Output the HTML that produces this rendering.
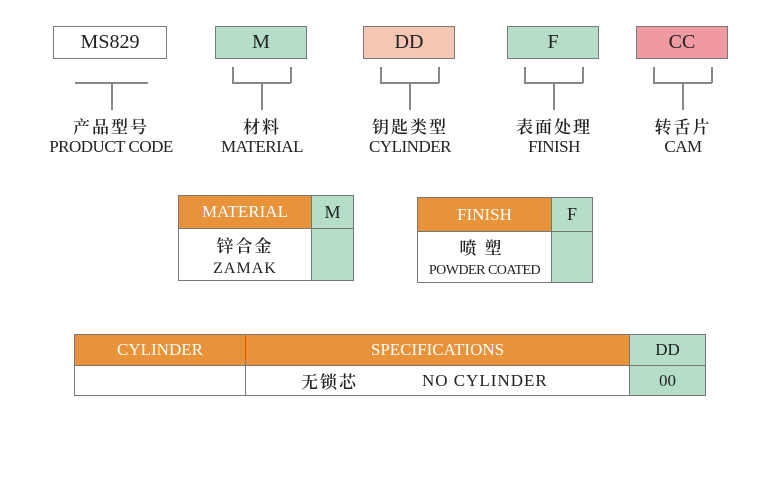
<!DOCTYPE html>
<html><head><meta charset="utf-8"><style>
body{margin:0;width:778px;height:500px;background:#fff;position:relative;overflow:hidden;font-family:"Liberation Serif","Noto Serif CJK SC",serif;color:#222}
div{position:absolute;box-sizing:border-box}
.b{border:1.5px solid #7a7a7a;text-align:center;font-size:20px;line-height:30px}
.ln{background:#888}
.lab{text-align:center;font-size:17px;line-height:19px;width:160px;letter-spacing:-0.5px}
.cj{font-family:"Noto Serif CJK SC","Noto Sans CJK SC",serif;letter-spacing:2px;font-weight:600}
.o{background:#e8923a;color:#fff}
.g{background:#b4dec8}
.c{border:1px solid #777;text-align:center}
</style></head><body>
<div class="b" style="left:53px;top:26px;width:114px;height:33px">MS829</div>
<div class="b g" style="left:215px;top:26px;width:92px;height:33px">M</div>
<div class="b" style="left:363px;top:26px;width:92px;height:33px;background:#f5c6b4">DD</div>
<div class="b g" style="left:507px;top:26px;width:92px;height:33px">F</div>
<div class="b" style="left:636px;top:26px;width:92px;height:33px;background:#ef9aa0">CC</div>

<div class="ln" style="left:75px;top:82px;width:73px;height:1.5px"></div>
<div class="ln" style="left:111px;top:82px;width:1.5px;height:28px"></div>

<div class="ln" style="left:232px;top:67px;width:1.5px;height:16px"></div>
<div class="ln" style="left:290px;top:67px;width:1.5px;height:16px"></div>
<div class="ln" style="left:232px;top:82px;width:59px;height:1.5px"></div>
<div class="ln" style="left:261px;top:82px;width:1.5px;height:28px"></div>

<div class="ln" style="left:380px;top:67px;width:1.5px;height:16px"></div>
<div class="ln" style="left:438px;top:67px;width:1.5px;height:16px"></div>
<div class="ln" style="left:380px;top:82px;width:59px;height:1.5px"></div>
<div class="ln" style="left:409px;top:82px;width:1.5px;height:28px"></div>

<div class="ln" style="left:524px;top:67px;width:1.5px;height:16px"></div>
<div class="ln" style="left:582px;top:67px;width:1.5px;height:16px"></div>
<div class="ln" style="left:524px;top:82px;width:59px;height:1.5px"></div>
<div class="ln" style="left:553px;top:82px;width:1.5px;height:28px"></div>

<div class="ln" style="left:653px;top:67px;width:1.5px;height:16px"></div>
<div class="ln" style="left:711px;top:67px;width:1.5px;height:16px"></div>
<div class="ln" style="left:653px;top:82px;width:59px;height:1.5px"></div>
<div class="ln" style="left:682px;top:82px;width:1.5px;height:28px"></div>

<div class="lab" style="left:31px;top:116px"><span class="cj">产品型号</span><br>PRODUCT CODE</div>
<div class="lab" style="left:182px;top:116px"><span class="cj">材料</span><br>MATERIAL</div>
<div class="lab" style="left:330px;top:116px"><span class="cj">钥匙类型</span><br>CYLINDER</div>
<div class="lab" style="left:474px;top:116px"><span class="cj">表面处理</span><br>FINISH</div>
<div class="lab" style="left:603px;top:116px"><span class="cj">转舌片</span><br>CAM</div>

<div class="c o" style="left:178px;top:195px;width:134px;height:34px;font-size:17px;line-height:32px">MATERIAL</div>
<div class="c g" style="left:311px;top:195px;width:43px;height:34px;font-size:18px;line-height:32px">M</div>
<div class="c" style="left:178px;top:228px;width:134px;height:53px;font-size:16px;line-height:21px;padding-top:5px"><span class="cj" style="font-size:17px">锌合金</span><br><span style="letter-spacing:1px">ZAMAK</span></div>
<div class="c g" style="left:311px;top:228px;width:43px;height:53px"></div>

<div class="c o" style="left:417px;top:197px;width:135px;height:35px;font-size:17px;line-height:33px">FINISH</div>
<div class="c g" style="left:551px;top:197px;width:42px;height:35px;font-size:18px;line-height:33px">F</div>
<div class="c" style="left:417px;top:231px;width:135px;height:52px;font-size:14px;line-height:20px;padding-top:5px"><span class="cj" style="font-size:17px;letter-spacing:8px">喷塑</span><br><span style="letter-spacing:-0.5px">POWDER COATED</span></div>
<div class="c g" style="left:551px;top:231px;width:42px;height:52px"></div>

<div class="c o" style="left:74px;top:334px;width:172px;height:32px;font-size:17px;line-height:30px">CYLINDER</div>
<div class="c o" style="left:245px;top:334px;width:385px;height:32px;font-size:17px;line-height:30px">SPECIFICATIONS</div>
<div class="c g" style="left:629px;top:334px;width:77px;height:32px;font-size:17px;line-height:30px">DD</div>
<div class="c" style="left:74px;top:365px;width:172px;height:31px"></div>
<div class="c" style="left:245px;top:365px;width:385px;height:31px;font-size:17px;line-height:29px;text-align:left"><span class="cj" style="position:absolute;left:55px">无锁芯</span><span style="position:absolute;left:176px;letter-spacing:1px">NO CYLINDER</span></div>
<div class="c g" style="left:629px;top:365px;width:77px;height:31px;font-size:17px;line-height:29px">00</div>
</body></html>
